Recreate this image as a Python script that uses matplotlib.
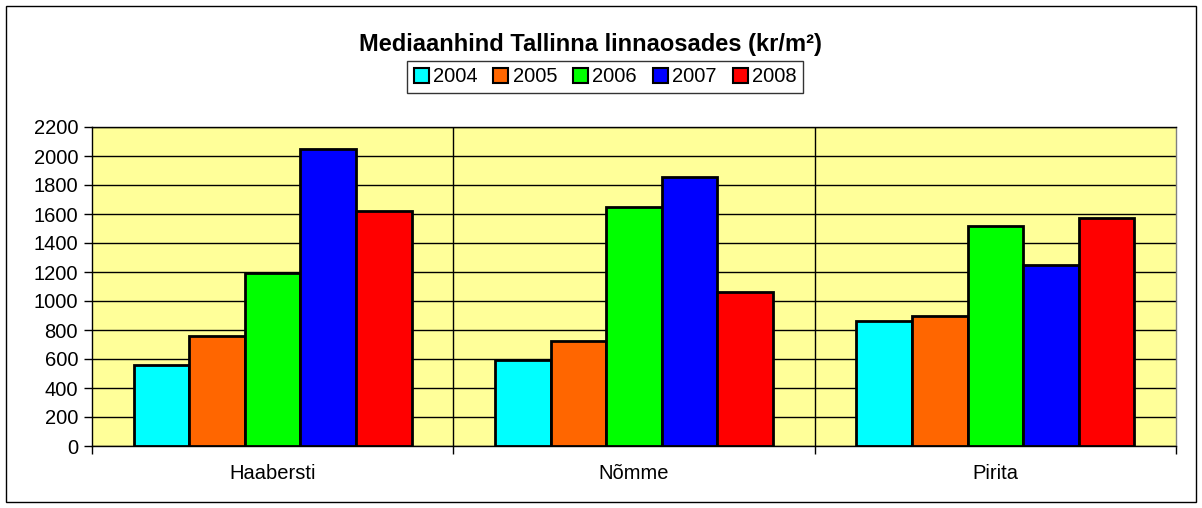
import matplotlib
matplotlib.use("Agg")
import matplotlib.pyplot as plt
from matplotlib.patches import Rectangle
import numpy as np

plt.rcParams['font.family'] = ['Liberation Sans', 'DejaVu Sans']

# andmed
linnaosad = ["Haabersti", "Nõmme", "Pirita"]
aastad = ["2004", "2005", "2006", "2007", "2008"]
v2004 = [560, 590, 860]
v2005 = [760, 725, 895]
v2006 = [1190, 1645, 1520]
v2007 = [2045, 1855, 1250]
v2008 = [1620, 1065, 1575]
varvid = ["#00FFFF", "#FF6600", "#00FF00", "#0000FF", "#FF0000"]

seeriad = [v2004, v2005, v2006, v2007, v2008]

fig = plt.figure(figsize=(12.02, 5.08), dpi=100)
ax = fig.add_axes([92/1202, 62/508, (1176-92)/1202, (446-127)/508])
ax.set_facecolor("#FFFF99")

n = len(seeriad)
laius = 1 / (n + 1.5)
x = np.arange(len(linnaosad))
for i, (vals, c, a) in enumerate(zip(seeriad, varvid, aastad)):
    pos = x - 0.5 + 0.75 * laius + (i + 0.5) * laius
    ax.bar(pos, vals, width=laius, color=c, edgecolor="black", linewidth=2,
           label=a, zorder=3)

ax.set_xlim(-0.5, len(linnaosad) - 0.5)
ax.set_ylim(0, 2200)
ax.set_yticks(np.arange(0, 2201, 200))
ax.yaxis.grid(True, color="black", linewidth=1, zorder=1)
ax.set_axisbelow(True)

# kategooriate piirid
ax.set_xticks(x)
ax.set_xticklabels(linnaosad, fontsize=14.5)
ax.set_xticks(np.arange(-0.5, len(linnaosad), 1), minor=True)
ax.tick_params(axis="x", which="major", length=0, pad=13)
ax.tick_params(axis="x", which="minor", length=6, width=1, direction="out")
ax.tick_params(axis="y", length=6, width=1, labelsize=14.5, pad=4)
for b in [0.5, 1.5]:
    ax.axvline(b, color="black", linewidth=1, zorder=1)
for s in ax.spines.values():
    s.set_color("black")
    s.set_linewidth(1)
ax.spines["right"].set_color("#808080")

fig.text(590/1202, 1 - 45/508, "Mediaanhind Tallinna linnaosades (kr/m²)",
         ha="center", va="center", fontsize=17, fontweight="bold")
leg = fig.legend(loc="center", bbox_to_anchor=(605/1202, 1 - 77/508), ncol=5,
                 fontsize=14.5, frameon=True, fancybox=False, edgecolor="black",
                 handlelength=0.75, handleheight=0.75, handletextpad=0.2,
                 columnspacing=0.8, borderpad=0.3, borderaxespad=0)
leg.get_frame().set_linewidth(1)
for h in leg.legend_handles:
    h.set_linewidth(1.5)

fig.patches.append(Rectangle((6/1202, 6/508), 1190/1202, 496/508,
                             transform=fig.transFigure, fill=False,
                             edgecolor="black", linewidth=1))

fig.savefig("out.png", dpi=100)
